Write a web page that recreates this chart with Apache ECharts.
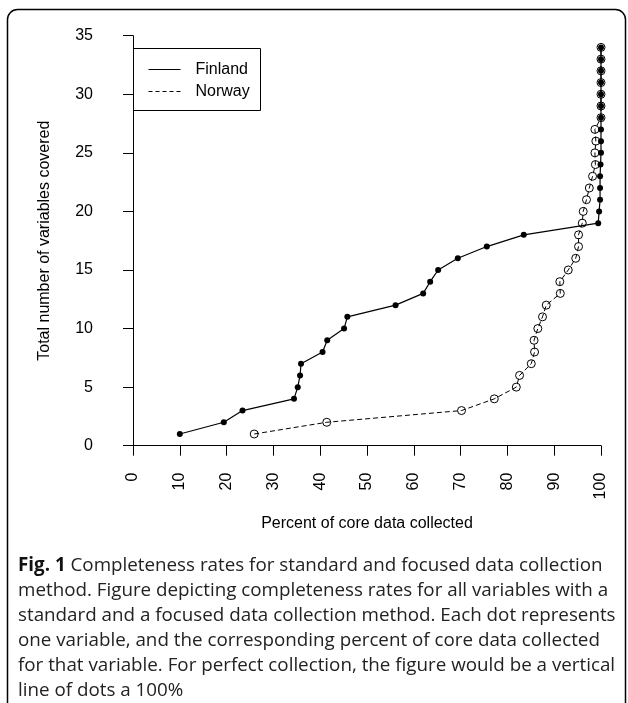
<!DOCTYPE html>
<html><head><meta charset="utf-8">
<script src="https://cdn.jsdelivr.net/npm/echarts@6/dist/echarts.min.js"></script>
<style>html,body{margin:0;padding:0;background:#fff}#c{width:628px;height:703px}</style>
</head><body><div id="c"></div>
<script>
// ---- data ----
const finlandX = [10, 19.4, 23.4, 34.4, 35.2, 35.7, 35.9, 40.5, 41.5, 45.1, 45.8, 56.1, 62.0, 63.5, 65.2, 69.4, 75.6, 83.5, 99.4, 99.6, 99.8, 99.8, 99.8, 99.9, 100, 100, 100, 100, 100, 100, 100, 100, 100, 100];
const finlandY = [1, 2, 3, 4, 5, 6, 7, 8, 9, 10, 11, 12, 13, 14, 15, 16, 17, 18, 19, 20, 21, 22, 23, 24, 25, 26, 27, 28, 29, 30, 31, 32, 33, 34];
const norwayX = [25.9, 41.4, 70.2, 77.2, 81.9, 82.6, 85.1, 85.8, 85.7, 86.5, 87.5, 88.3, 91.3, 91.2, 93.0, 94.6, 95.2, 95.2, 96.0, 96.2, 96.9, 97.5, 98.2, 98.8, 98.7, 98.9, 98.7, 100, 100, 100, 100, 100, 100, 100];
const norwayY = [1, 2, 3, 4, 5, 6, 7, 8, 9, 10, 11, 12, 13, 14, 15, 16, 17, 18, 19, 20, 21, 22, 23, 24, 25, 26, 27, 28, 29, 30, 31, 32, 33, 34];
const seriesNames = ['Finland', 'Norway'];
const xTitle = 'Percent of core data collected';
const yTitle = 'Total number of variables covered';
const captionBold = 'Fig. 1';
const captionLines = [
  ' Completeness rates for standard and focused data collection',
  'method. Figure depicting completeness rates for all variables with a',
  'standard and a focused data collection method. Each dot represents',
  'one variable, and the corresponding percent of core data collected',
  'for that variable. For perfect collection, the figure would be a vertical',
  'line of dots a 100%'
];

const pair = (xs, ys) => xs.map((x, i) => [x, ys[i]]);
const F = 'Liberation Sans, Arial, sans-serif';
const CF = 'Open Sans, sans-serif';
const CS = 18.8, LH = 25;

const chart = echarts.init(document.getElementById('c'), null, {renderer: 'canvas'});
const capText = '{b|' + captionBold + '}' + captionLines.map(l => '{n|' + l + '}').join('\n');

chart.setOption({
  animation: false,
  backgroundColor: '#fff',
  grid: {left: 133, right: 27, top: 35.7, bottom: 257.3, containLabel: false},
  xAxis: {
    type: 'value', min: 0, max: 100, interval: 10, offset: 5,
    splitLine: {show: false},
    axisLine: {show: true, lineStyle: {color: '#000', width: 1}},
    axisTick: {show: true, length: 10, lineStyle: {color: '#000'}},
    axisLabel: {rotate: 90, margin: 22, color: '#000', fontFamily: F, fontSize: 16},
    name: xTitle, nameLocation: 'middle', nameGap: 65,
    nameTextStyle: {color: '#000', fontFamily: F, fontSize: 16}
  },
  yAxis: {
    type: 'value', min: 0, max: 35, interval: 5, offset: 19,
    splitLine: {show: false},
    axisLine: {show: true, lineStyle: {color: '#000', width: 1}},
    axisTick: {show: true, length: 10, lineStyle: {color: '#000'}},
    axisLabel: {margin: 21, color: '#000', fontFamily: F, fontSize: 16},
    name: yTitle, nameLocation: 'middle', nameGap: 61,
    nameTextStyle: {color: '#000', fontFamily: F, fontSize: 16}
  },
  series: [
    {
      name: seriesNames[0], type: 'line', data: pair(finlandX, finlandY), clip: false,
      symbol: 'circle', symbolSize: 6,
      lineStyle: {color: '#000', width: 1.2},
      itemStyle: {color: '#000'}
    },
    {
      name: seriesNames[1], type: 'line', data: pair(norwayX, norwayY), clip: false,
      symbol: 'circle', symbolSize: 8,
      lineStyle: {color: '#000', width: 1, type: [5, 3]},
      itemStyle: {color: 'rgba(0,0,0,0)', borderColor: '#000', borderWidth: 1}
    }
  ],
  title: {
    text: capText, left: 13, top: 548,
    textStyle: {
      fontWeight: 'normal', fontFamily: CF, fontSize: CS, lineHeight: LH,
      rich: {
        b: {fontFamily: CF, fontSize: CS, fontWeight: 'bold', color: '#111', lineHeight: LH},
        n: {fontFamily: CF, fontSize: CS, fontWeight: 'normal', color: '#222', lineHeight: LH}
      }
    }
  },
  graphic: [
    {type: 'rect', left: 5, top: 7, shape: {width: 618, height: 740, r: 10},
     style: {fill: 'none', stroke: '#000', lineWidth: 1.5}, silent: true},
    {type: 'group', left: 133, top: 48, children: [
      {type: 'rect', shape: {x: 0, y: 0, width: 127, height: 62}, style: {fill: '#fff', stroke: '#000', lineWidth: 1}},
      {type: 'line', shape: {x1: 15, y1: 21, x2: 47, y2: 21}, style: {stroke: '#000', lineWidth: 1}},
      {type: 'line', shape: {x1: 15, y1: 43, x2: 47, y2: 43}, style: {stroke: '#000', lineWidth: 1, lineDash: [4, 3]}},
      {type: 'text', x: 62, y: 21, style: {text: seriesNames[0], fontFamily: F, fontSize: 16, fill: '#000', verticalAlign: 'middle'}},
      {type: 'text', x: 62, y: 43, style: {text: seriesNames[1], fontFamily: F, fontSize: 16, fill: '#000', verticalAlign: 'middle'}}
    ]}
  ]
});
</script></body></html>
